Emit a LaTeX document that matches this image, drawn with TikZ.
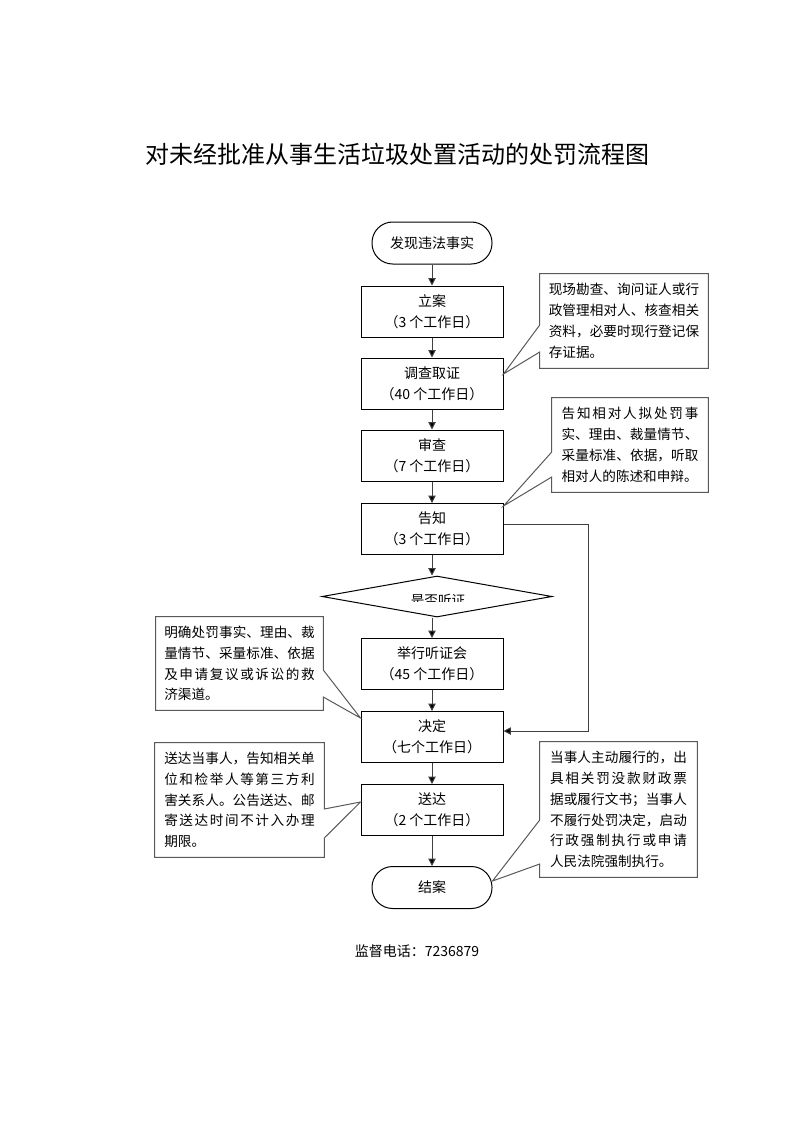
\documentclass[tikz,border=0pt]{standalone}
\usepackage{fontspec}
\setmainfont{Noto Sans CJK SC}
\usetikzlibrary{shapes.geometric,arrows.meta,calc}
\XeTeXlinebreaklocale "zh"
\XeTeXlinebreakskip=0pt plus 1.5pt
\begin{document}
\begin{tikzpicture}[
  x=0.75pt, y=-0.75pt,
  proc/.style={draw=black, line width=0.75pt, minimum width=106.5pt, minimum height=38.25pt,
    inner sep=0pt, align=center, font=\fontsize{10.5pt}{15.6pt}\selectfont},
  term/.style={draw=black, line width=0.75pt, rounded corners=15.5pt, minimum width=90pt,
    minimum height=31.5pt, inner sep=0pt, font=\fontsize{10.5pt}{15.6pt}\selectfont},
  dec/.style={draw=black, line width=0.75pt, diamond, minimum width=172.5pt,
    minimum height=30.75pt, inner sep=0pt},
  arr/.style={draw=black!75, line width=0.75pt, -{Triangle[length=5.5pt,width=5.5pt,fill=black]}},
  ctext/.style={inner sep=0pt, align=justify, font=\fontsize{10.2pt}{15.6pt}\selectfont},
  cline/.style={draw=black!65, line width=0.75pt, fill=white, line join=miter}
]
\useasboundingbox (0,0) rectangle (793,1122);

% title
\node[font=\fontsize{18pt}{20pt}\selectfont] (title) at (397.5,154) {对未经批准从事生活垃圾处置活动的处罚流程图};

% main flow
\node[term] (start) at (432,243) {发现违法事实};
\node[proc] (lian) at (432,311.5) {立案\\（3 个工作日）};
\node[proc] (diaocha) at (432,383.5) {调查取证\\（40 个工作日）};
\node[proc] (shencha) at (432,455.5) {审查\\（7 个工作日）};
\node[proc] (gaozhi) at (432,529) {告知\\（3 个工作日）};
\node[dec] (dec) at (437,596.5) {};
\begin{scope}
  \clip (320,575) rectangle (560,601.5);
  \node[inner sep=0pt, font=\fontsize{10.2pt}{12pt}\selectfont] (dectext) at (438,600) {是否听证};
\end{scope}
\node[proc] (juxing) at (432,664) {举行听证会\\（45 个工作日）};
\node[proc] (jueding) at (432,737) {决定\\（七个工作日）};
\node[proc] (songda) at (432,810) {送达\\（2 个工作日）};
\node[term] (jiean) at (432,887.5) {结案};

\draw[arr] (start) -- (lian);
\draw[arr] (lian) -- (diaocha);
\draw[arr] (diaocha) -- (shencha);
\draw[arr] (shencha) -- (gaozhi);
\draw[arr] (gaozhi.south) -- (gaozhi.south |- dec.north);
\draw[arr] (juxing.north |- dec.south) -- (juxing.north);
\draw[arr] (juxing) -- (jueding);
\draw[arr] (jueding) -- (songda);
\draw[arr] (songda) -- (jiean);

% bypass
\coordinate (bypassTop) at (588,524);
\coordinate (bypassBot) at (588,731);
\draw[arr] (gaozhi.east |- bypassTop) -- (bypassTop) -- (bypassBot) -- (jueding.east |- bypassBot);

% callout R1
\node[ctext, text width=112.8pt, minimum width=126pt, minimum height=70.5pt] (r1) at (624,321) {};
\coordinate (r1tip) at (diaocha.east |- 0,374);
\draw[cline] (r1.north west) -- (r1.north east) -- (r1.south east) -- (r1.south west)
  -- (r1.west |- 0,352) -- (r1tip) -- (r1.west |- 0,325) -- cycle;
\node[ctext, text width=112.8pt] (r1t) at (r1.center) {现场勘查、询问证人或行\linebreak 政管理相对人、核查相关\linebreak 资料，必要时现行登记保\linebreak 存证据。};

% callout R2
\node[ctext, minimum width=117pt, minimum height=70.5pt] (r2) at (630,445) {};
\coordinate (r2tip) at (gaozhi.east |- 0,506);
\draw[cline] (r2.north west) -- (r2.north east) -- (r2.south east) -- (r2.south west)
  -- (r2.west |- 0,477) -- (r2tip) -- (r2.west |- 0,452) -- cycle;
\node[ctext, text width=102.6pt] (r2t) at (r2.center) {告知相对人拟处罚事\linebreak 实、理由、裁量情节、\linebreak 采量标准、依据，听取\linebreak 相对人的陈述和申辩。};

% callout L1
\node[ctext, minimum width=125.25pt, minimum height=69.75pt] (l1) at (239.5,663.5) {};
\coordinate (l1tip) at (jueding.west |- 0,718);
\draw[cline] (l1.north west) -- (l1.north east) -- (l1.east |- 0,670) -- (l1tip)
  -- (l1.east |- 0,697) -- (l1.south east) -- (l1.south west) -- cycle;
\node[ctext, text width=112.8pt] (l1t) at (l1.center) {明确处罚事实、理由、裁\linebreak 量情节、采量标准、依据\linebreak 及申请复议或诉讼的救\linebreak 济渠道。};

% callout L2
\node[ctext, minimum width=126.75pt, minimum height=85.5pt] (l2) at (239.5,800) {};
\coordinate (l2tip) at (songda.west |- 0,802);
\draw[cline] (l2.north west) -- (l2.north east) -- (l2.east |- 0,809) -- (l2tip)
  -- (l2.east |- 0,838) -- (l2.south east) -- (l2.south west) -- cycle;
\node[ctext, text width=112.8pt] (l2t) at (l2.center) {送达当事人，告知相关单\linebreak 位和检举人等第三方利\linebreak 害关系人。公告送达、邮\linebreak 寄送达时间不计入办理\linebreak 期限。};

% callout R3
\node[ctext, minimum width=117.75pt, minimum height=101.25pt] (r3) at (618.5,809.5) {};
\coordinate (r3tip) at (jiean.east |- 0,881);
\draw[cline] (r3.north west) -- (r3.north east) -- (r3.south east) -- (r3.south west)
  -- (r3.west |- 0,864) -- (r3tip) -- (r3.west |- 0,820) -- cycle;
\node[ctext, text width=102.6pt] (r3t) at (r3.center) {当事人主动履行的，出\linebreak 具相关罚没款财政票\linebreak 据或履行文书；当事人\linebreak 不履行处罚决定，启动\linebreak 行政强制执行或申请\linebreak 人民法院强制执行。};

% footer
\node[font=\fontsize{10.5pt}{12pt}\selectfont] (footer) at (417,951) {监督电话：7236879};
\end{tikzpicture}
\end{document}
